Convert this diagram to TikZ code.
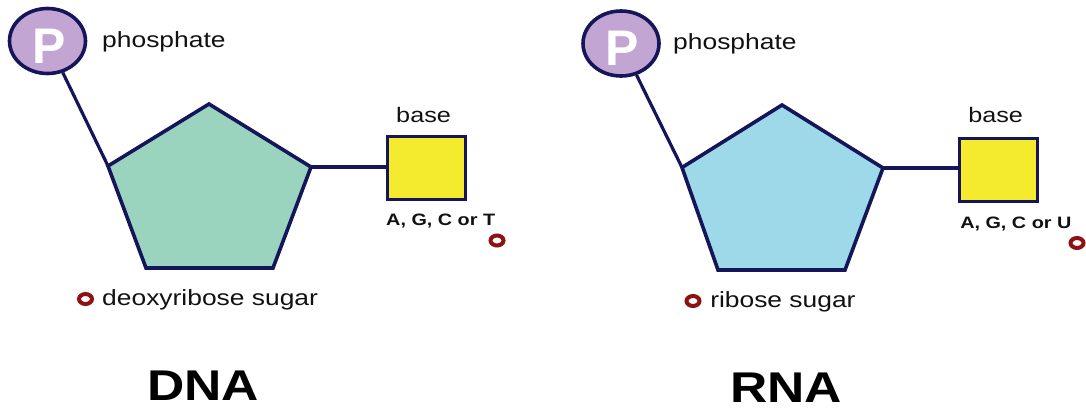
\documentclass[tikz,border=0pt]{standalone}
\usepackage{fontspec}
\setmainfont{Liberation Sans}
\usetikzlibrary{shapes.geometric}

\definecolor{navy}{HTML}{15155A}
\definecolor{mint}{HTML}{9AD3BE}
\definecolor{sky}{HTML}{9DD9E9}
\definecolor{baseyellow}{HTML}{F4EA2E}
\definecolor{lavender}{HTML}{C2A5D2}
\definecolor{ringred}{HTML}{8E1212}
\definecolor{ink}{HTML}{111111}

\tikzset{
  outline/.style={draw=navy, line width=3.6pt, line join=miter},
  bond/.style={draw=navy, line width=3.2pt},
  phos/.style={ellipse, outline, fill=lavender, inner sep=0pt,
               minimum width=76pt, minimum height=65pt},
  pletter/.style={text=white, font=\fontsize{50}{50}\selectfont\bfseries, inner sep=0pt},
  basebox/.style={rectangle, outline, fill=baseyellow, inner sep=0pt,
                  minimum width=78pt, minimum height=63pt},
  ring/.style={ellipse, draw=ringred, line width=4pt, fill=white, inner sep=0pt,
               minimum width=13pt, minimum height=10pt},
  lbl/.style={anchor=base west, inner sep=0pt, text=ink,
              font=\fontsize{22}{22}\selectfont, xscale=1.2},
  lblsmall/.style={anchor=base west, inner sep=0pt, text=ink,
              font=\fontsize{16.5}{16.5}\selectfont\bfseries, xscale=1.2},
  title/.style={anchor=base west, inner sep=0pt, text=black,
              font=\fontsize{43}{43}\selectfont\bfseries, xscale=1.2},
}

\begin{document}
\begin{tikzpicture}[x=1pt, y=-1pt]
\useasboundingbox (0,0) rectangle (1086,409);
\clip (0,0) rectangle (1086,409);

% ---------------- DNA nucleotide ----------------
\coordinate (dT)  at (209,104);
\coordinate (dR)  at (311,167);
\coordinate (dBR) at (273,268);
\coordinate (dBL) at (146,268);
\coordinate (dL)  at (108,166);

\node[phos] (dP) at (47.5,41) {};
\draw[bond] (dP) -- (dL);
\node[pletter] (dPl) at (49,46) {P};
\node[lbl] (dPtxt) at (102,48) {phosphate};

\draw[outline, fill=mint] (dT) -- (dR) -- (dBR) -- (dBL) -- (dL) -- cycle;

\node[basebox] (dB) at (426.5,168) {};
\draw[bond] (dR) -- (dR -| dB.west);
\node[lbl, font=\fontsize{21}{21}\selectfont] (dBtxt) at (396,122) {base};
\node[lblsmall] (dBset) at (386,225) {A, G, C or T};
\node[ring] (dRing1) at (497,240.5) {};

\node[ring] (dRing2) at (85.5,299) {};
\node[lbl] (dStxt) at (102,305) {deoxyribose sugar};

\node[title] (dTitle) at (147,400) {DNA};

% ---------------- RNA nucleotide ----------------
\coordinate (rT)  at (782,105);
\coordinate (rR)  at (883,168);
\coordinate (rBR) at (845,270);
\coordinate (rBL) at (718,270);
\coordinate (rL)  at (682,167.5);

\node[phos] (rP) at (621,43.5) {};
\draw[bond] (rP) -- (rL);
\node[pletter] (rPl) at (622.5,48.5) {P};
\node[lbl] (rPtxt) at (673,50) {phosphate};

\draw[outline, fill=sky] (rT) -- (rR) -- (rBR) -- (rBL) -- (rL) -- cycle;

\node[basebox] (rB) at (998.5,170) {};
\draw[bond] (rR) -- (rR -| rB.west);
\node[lbl, font=\fontsize{21}{21}\selectfont] (rBtxt) at (968,123) {base};
\node[lblsmall] (rBset) at (960,228) {A, G, C or U};
\node[ring] (rRing1) at (1077,243) {};

\node[ring] (rRing2) at (693,301) {};
\node[lbl] (rStxt) at (710,307) {ribose sugar};

\node[title] (rTitle) at (730,402) {RNA};
\end{tikzpicture}
\end{document}
